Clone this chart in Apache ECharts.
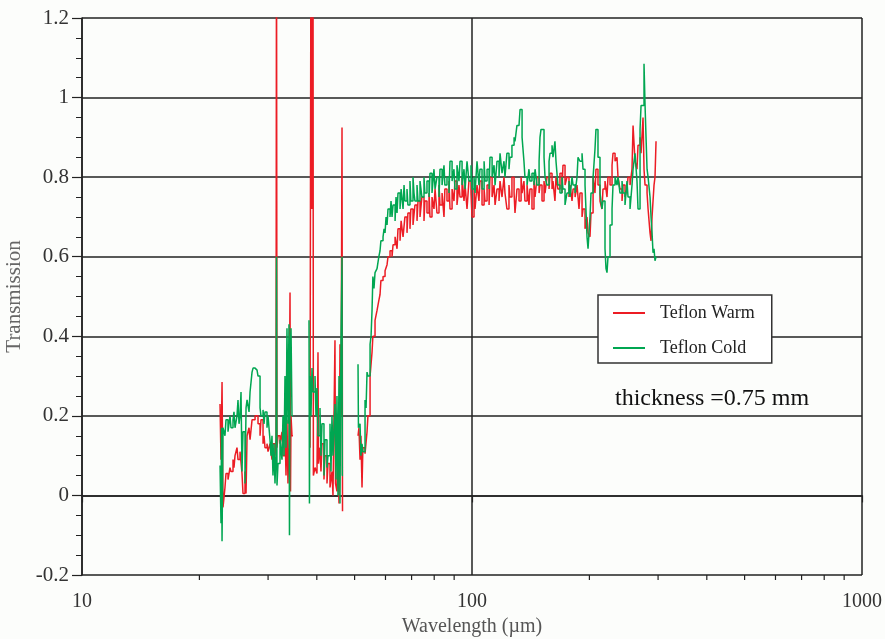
<!DOCTYPE html>
<html>
<head>
<meta charset="utf-8">
<title>Teflon transmission</title>
<script src="https://cdn.jsdelivr.net/npm/echarts@6/dist/echarts.min.js"></script>
<style>
  html, body { margin: 0; padding: 0; background: #fcfdfb; }
  #chart { width: 885px; height: 639px; }
</style>
</head>
<body>
<div id="chart"></div>
<script>
// wavelength (um) and transmission, null = no data (gap)
const warmWave = [
  22.59, 22.72, 22.86, 22.99, 23.26, 23.40, 23.68, 23.96, 24.10, 24.39, 24.53, 24.68, 24.97, 25.12, 25.42,
  25.72, 25.87, 26.18, 26.34, 26.50, 26.81, 26.97, 27.29, 27.78, 28.27, 28.61, 28.77, 29.12, 29.29, 29.46,
  29.81, 29.99, 30.34, 30.70, 30.88, 31.25, 31.44, 31.53, 31.62, 31.81, 32.19, 32.57, 32.76, 33.15, 33.35,
  33.54, 33.74, 33.94, 34.15, 34.25, 34.35, 34.55, 34.76,
  38.43, 38.65, 38.76, 38.88, 39.00, 39.11, 39.20, 39.58, 40.04, 40.28, 40.40, 40.76, 41.00, 41.24, 41.73,
  41.98, 42.48, 42.73, 43.24, 43.75, 44.01, 44.53, 44.67, 45.06, 45.33, 45.60, 45.87, 46.15, 46.42, 46.56, 46.70,
  51.02, 51.30, 51.63, 51.90, 52.24, 52.50, 53.18, 53.81, 54.10, 54.78, 55.42, 55.70, 56.41, 57.08, 57.70,
  58.10, 58.40, 59.14, 59.85, 60.56, 60.90, 61.63, 62.37, 62.74, 63.50, 64.24, 64.60, 65.39, 65.80, 66.56,
  67.30, 68.13, 68.50, 69.34, 69.70, 70.59, 71.40, 72.28, 72.70, 73.57, 74.40, 75.32, 75.70, 76.66, 77.60,
  78.04, 78.97, 79.90, 80.40, 81.32, 82.30, 82.78, 83.80, 84.76, 85.20, 86.27, 87.30, 87.82, 88.90, 89.91,
  90.40, 91.52, 92.60, 93.16, 94.30, 95.39, 96.00, 97.10, 98.20, 99.41, 100.0, 101.2, 101.8, 103.0, 104.2,
  104.8, 106.1, 107.4, 108.0, 109.3, 110.6, 111.2, 112.6, 113.9, 114.6, 115.9, 117.3, 118.0, 119.4, 120.8,
  121.5, 122.9, 124.4, 125.1, 126.6, 128.2, 128.9, 130.4, 132.0, 133.6, 134.4, 135.9, 136.7, 138.4, 140.0,
  140.8, 142.5, 144.2, 145.1, 146.8, 148.6, 149.4, 151.2, 153.0, 153.9, 155.7, 157.6, 158.5, 160.4, 161.3,
  163.2, 164.2, 166.1, 168.1, 170.1, 171.1, 173.2, 175.2, 177.3, 178.4, 180.5, 181.6, 183.8, 185.9, 188.1,
  189.2, 191.5, 192.6, 194.9, 197.2, 198.4, 200.7, 201.9, 204.4, 206.7, 207.9, 210.4, 212.9, 215.4, 216.7,
  219.3, 221.9, 223.2, 225.9, 228.6, 229.9, 232.7, 235.4, 236.8, 239.6, 242.5, 243.9, 246.8, 249.7, 251.2,
  254.2, 257.2, 258.8, 261.8, 264.9, 266.5, 269.7, 271.3, 274.5, 276.1, 277.8, 281.1, 282.8, 286.1, 287.8,
  289.5, 292.9, 294.6, 296.4
];
const warmTrans = [
  0.23, 0.09, 0.285, -0.03, 0.02, 0.055, 0.04, 0.07, 0.06, 0.09, 0.07, 0.10, 0.12, 0.09, 0.11,
  0.055, 0.005, 0.06, 0.005, 0.15, 0.17, 0.14, 0.19, 0.20, 0.18, 0.15, 0.19, 0.13, 0.15, 0.12,
  0.13, 0.11, 0.13, 0.09, 0.13, 0.10, 0.14, 1.50, 0.12, 0.15, 0.13, 0.16, 0.10, 0.17, 0.05,
  0.19, 0.03, 0.12, 0.51, 0.01, 0.20, 0.15, null,
  0.12, 1.50, 0.72, 1.50, 0.72, 1.50, 0.05, 0.07, 0.055, 0.36, 0.08, 0.12, 0.06, 0.13, 0.04,
  0.10, 0.03, 0.08, 0.02, 0.06, 0.00, 0.39, 0.03, 0.01, 0.14, -0.02, 0.38, 0.20, 0.925, -0.04, null,
  0.15, 0.17, 0.09, 0.15, 0.02, 0.12, 0.105, 0.16, 0.20, 0.30, 0.36, 0.40, 0.44, 0.465, 0.49,
  0.505, 0.54, 0.55, 0.565, 0.58, 0.60, 0.615, 0.60, 0.63, 0.65, 0.62, 0.67, 0.64, 0.69, 0.65,
  0.70, 0.66, 0.71, 0.67, 0.72, 0.68, 0.73, 0.69, 0.74, 0.70, 0.75, 0.69, 0.74, 0.71, 0.76,
  0.70, 0.75, 0.72, 0.77, 0.71, 0.78, 0.73, 0.76, 0.70, 0.77, 0.74, 0.79, 0.72, 0.77, 0.74,
  0.79, 0.73, 0.78, 0.75, 0.80, 0.74, 0.78, 0.72, 0.79, 0.76, 0.70, 0.77, 0.72, 0.78, 0.74,
  0.79, 0.73, 0.77, 0.74, 0.78, 0.73, 0.80, 0.75, 0.78, 0.73, 0.77, 0.74, 0.79, 0.75, 0.80,
  0.76, 0.72, 0.78, 0.75, 0.80, 0.76, 0.71, 0.77, 0.74, 0.80, 0.76, 0.79, 0.74, 0.78, 0.73,
  0.77, 0.72, 0.79, 0.75, 0.80, 0.76, 0.78, 0.74, 0.79, 0.76, 0.80, 0.77, 0.81, 0.77, 0.79,
  0.74, 0.80, 0.77, 0.81, 0.76, 0.83, 0.78, 0.80, 0.75, 0.78, 0.74, 0.77, 0.75, 0.78, 0.72,
  0.76, 0.70, 0.72, 0.67, 0.70, 0.66, 0.65, 0.71, 0.80, 0.76, 0.82, 0.78, 0.74, 0.72, 0.77,
  0.79, 0.75, 0.80, 0.78, 0.83, 0.86, 0.84, 0.85, 0.80, 0.77, 0.74, 0.78, 0.75, 0.77, 0.80,
  0.78, 0.82, 0.93, 0.84, 0.82, 0.88, 0.90, 0.86, 0.95, 0.82, 0.78, 0.76, 0.72, 0.66, 0.64,
  0.70, 0.78, 0.80, 0.89
];

const coldWave = [
  22.59, 22.72, 22.79, 22.86, 22.99, 23.26, 23.40, 23.68, 23.96, 24.10, 24.39, 24.53, 24.68, 24.97, 25.12,
  25.27, 25.42, 25.57, 25.72, 25.87, 26.18, 26.34, 26.50, 26.81, 26.97, 27.29, 27.45, 27.78, 28.11, 28.27,
  28.61, 28.77, 29.12, 29.29, 29.46, 29.81, 29.99, 30.34, 30.52, 30.70, 30.88, 31.06, 31.25, 31.44, 31.53,
  31.62, 31.81, 32.19, 32.57, 32.76, 32.96, 33.15, 33.35, 33.54, 33.74, 33.94, 34.04, 34.15, 34.35, 34.55, 34.76,
  38.20, 38.30, 38.43, 38.65, 38.88, 39.11, 39.58, 39.80, 40.04, 40.28, 40.76, 41.00, 41.24, 41.73, 41.98,
  42.48, 42.73, 43.24, 43.50, 43.75, 44.01, 44.53, 44.80, 45.06, 45.33, 45.60, 45.87, 46.15, 46.42, 46.50, 46.70,
  51.02, 51.15, 51.63, 51.90, 52.24, 52.50, 53.18, 53.50, 53.81, 54.10, 54.78, 55.10, 55.42, 55.70, 56.06,
  56.41, 57.08, 57.70, 58.10, 58.40, 59.14, 59.50, 59.85, 60.20, 60.56, 60.90, 61.63, 62.00, 62.37, 62.74,
  63.50, 63.86, 64.24, 64.60, 65.39, 65.80, 66.56, 66.95, 67.30, 68.13, 68.50, 69.34, 69.70, 70.59, 71.00,
  71.40, 72.28, 72.70, 73.57, 74.40, 75.32, 75.70, 76.66, 77.60, 78.04, 78.97, 79.90, 80.40, 81.32, 82.30,
  82.78, 83.80, 84.76, 85.20, 86.27, 87.30, 87.82, 88.90, 89.91, 90.40, 91.52, 92.60, 93.16, 94.30, 95.39,
  96.00, 97.10, 98.20, 99.41, 100.0, 101.2, 101.8, 103.0, 104.2, 104.8, 106.1, 107.4, 108.0, 109.3, 110.6,
  111.2, 112.6, 113.9, 114.6, 115.9, 117.3, 118.0, 119.4, 120.8, 121.5, 122.9, 124.4, 125.1, 126.6, 128.2,
  128.9, 130.4, 132.0, 132.8, 133.6, 134.4, 135.9, 136.7, 138.4, 140.0, 140.8, 142.5, 144.2, 145.1, 146.8,
  148.6, 149.4, 150.3, 151.2, 153.0, 153.9, 155.7, 157.6, 158.5, 160.4, 161.3, 163.2, 164.2, 166.1, 168.1,
  170.1, 171.1, 173.2, 175.2, 177.3, 178.4, 180.5, 181.6, 183.8, 185.9, 187.0, 189.2, 191.5, 192.6, 194.9,
  197.2, 198.4, 200.7, 201.9, 204.4, 206.7, 207.9, 209.1, 210.4, 212.9, 215.4, 216.7, 219.3, 220.6, 221.9,
  223.2, 225.9, 228.6, 229.9, 232.7, 235.4, 236.8, 239.6, 242.5, 243.9, 246.8, 249.7, 251.2, 254.2, 257.2,
  258.8, 261.8, 264.9, 266.5, 269.7, 271.3, 274.5, 276.1, 277.8, 279.4, 281.1, 282.8, 286.1, 287.8, 289.5,
  291.2, 292.9, 294.6, 296.4
];
const coldTrans = [
  0.075, -0.07, 0.17, -0.115, 0.17, 0.15, 0.19, 0.16, 0.20, 0.17, 0.19, 0.21, 0.17, 0.20, 0.24,
  0.18, 0.20, 0.26, 0.06, 0.16, 0.03, 0.22, 0.24, 0.21, 0.26, 0.31, 0.32, 0.315, 0.32, 0.30,
  0.22, 0.20, 0.215, 0.18, 0.21, 0.17, 0.20, 0.14, 0.10, 0.15, 0.05, 0.13, 0.03, 0.11, 0.60,
  0.025, 0.08, 0.14, 0.09, 0.20, 0.10, 0.30, 0.12, 0.42, 0.18, 0.43, -0.10, 0.36, 0.42, 0.20, null,
  0.44, -0.02, 0.30, 0.20, 0.32, 0.26, 0.30, 0.20, 0.27, 0.15, 0.22, 0.10, 0.18, 0.05, 0.14,
  0.07, 0.10, 0.18, 0.06, 0.20, 0.10, 0.23, 0.04, 0.25, 0.00, 0.30, -0.02, 0.40, 0.60, 0.05, null,
  0.33, 0.17, 0.18, 0.10, 0.13, 0.11, 0.24, 0.22, 0.31, 0.30, 0.38, 0.40, 0.465, 0.55, 0.52,
  0.56, 0.57, 0.60, 0.615, 0.64, 0.65, 0.67, 0.66, 0.70, 0.68, 0.72, 0.70, 0.74, 0.70, 0.73,
  0.69, 0.75, 0.71, 0.76, 0.72, 0.77, 0.72, 0.78, 0.74, 0.77, 0.73, 0.79, 0.74, 0.80, 0.76,
  0.74, 0.78, 0.74, 0.79, 0.75, 0.80, 0.76, 0.79, 0.75, 0.81, 0.76, 0.82, 0.77, 0.80, 0.75,
  0.82, 0.78, 0.83, 0.78, 0.80, 0.76, 0.84, 0.79, 0.82, 0.77, 0.83, 0.79, 0.84, 0.78, 0.82,
  0.77, 0.84, 0.79, 0.83, 0.77, 0.80, 0.76, 0.84, 0.78, 0.82, 0.77, 0.84, 0.79, 0.82, 0.77,
  0.85, 0.80, 0.83, 0.78, 0.84, 0.80, 0.86, 0.81, 0.84, 0.80, 0.86, 0.82, 0.85, 0.88, 0.90,
  0.89, 0.93, 0.93, 0.97, 0.97, 0.90, 0.84, 0.80, 0.78, 0.82, 0.79, 0.81, 0.78, 0.82, 0.78,
  0.84, 0.90, 0.92, 0.92, 0.85, 0.80, 0.78, 0.84, 0.86, 0.88, 0.85, 0.89, 0.84, 0.78, 0.76,
  0.80, 0.77, 0.73, 0.76, 0.79, 0.75, 0.80, 0.78, 0.76, 0.80, 0.85, 0.84, 0.86, 0.82, 0.78,
  0.65, 0.62, 0.70, 0.76, 0.80, 0.87, 0.92, 0.92, 0.85, 0.76, 0.72, 0.74, 0.62, 0.57, 0.56,
  0.60, 0.68, 0.72, 0.78, 0.80, 0.78, 0.80, 0.76, 0.79, 0.76, 0.73, 0.79, 0.75, 0.72, 0.78,
  0.82, 0.86, 0.79, 0.72, 0.92, 0.98, 0.98, 1.085, 0.98, 0.90, 0.82, 0.80, 0.75, 0.70, 0.66,
  0.61, 0.62, 0.59, 0.60
];

const xMinorTicks = [20, 30, 40, 50, 60, 70, 80, 90, 200, 300, 400, 500, 600, 700, 800, 900];

const serif = "'Liberation Serif', 'DejaVu Serif', serif";

function pairs(xs, ys) {
  return xs.map((x, i) => [x, ys[i]]);
}

const chart = echarts.init(document.getElementById('chart'));

const option = {
  backgroundColor: '#fcfdfb',
  animation: false,
  grid: { left: 82, right: 23, top: 18, bottom: 64, outerBoundsMode: 'none', containLabel: false },
  legend: {
    orient: 'vertical',
    left: 598,
    top: 295,
    padding: [9, 17, 6, 15],
    itemGap: 17,
    itemWidth: 32,
    itemHeight: 2,
    backgroundColor: '#ffffff',
    borderColor: '#333',
    borderWidth: 1.5,
    borderRadius: 0,
    data: [
      { name: 'Teflon Warm', icon: 'rect' },
      { name: 'Teflon Cold', icon: 'rect' }
    ],
    textStyle: { fontFamily: serif, fontSize: 18, color: '#222', padding: [0, 0, 0, 10] }
  },
  xAxis: {
    type: 'log',
    logBase: 10,
    min: 10,
    max: 1000,
    name: 'Wavelength (\u00b5m)',
    nameLocation: 'middle',
    nameGap: 41,
    nameTextStyle: { fontFamily: serif, fontSize: 20, color: '#555' },
    axisLine: { lineStyle: { color: '#222', width: 1.5 } },
    axisTick: { show: true, length: 7, lineStyle: { color: '#222', width: 1.2 } },
    axisLabel: {
      fontFamily: serif, fontSize: 20, color: '#333', margin: 17,
      formatter: v => String(Math.round(v))
    },
    splitLine: { show: true, lineStyle: { color: '#222', width: 1.5 } }
  },
  yAxis: {
    type: 'value',
    min: -0.2,
    max: 1.2,
    interval: 0.2,
    name: 'Transmission',
    nameLocation: 'middle',
    nameGap: 52,
    nameTextStyle: { fontFamily: serif, fontSize: 21, color: '#666' },
    axisLine: { show: true, lineStyle: { color: '#222', width: 1.5 } },
    axisTick: { show: true, length: 10, lineStyle: { color: '#222', width: 1.2 } },
    minorTick: { show: true, splitNumber: 4, length: 6, lineStyle: { color: '#222', width: 1 } },
    axisLabel: {
      fontFamily: serif, fontSize: 21, color: '#333', margin: 13,
      formatter: v => String(Math.round(v * 10) / 10)
    },
    splitLine: { show: true, lineStyle: { color: '#222', width: 1.5 } }
  },
  graphic: [
    {
      type: 'text',
      left: 613,
      top: 385,
      z: 10,
      style: {
        text: 'thickness =0.75 mm',
        font: '24px ' + serif,
        fill: '#111',
        backgroundColor: '#fcfdfb',
        padding: [2, 40, 2, 2]
      }
    }
  ],
  series: [
    {
      name: 'Teflon Warm',
      type: 'line',
      step: 'end',
      showSymbol: false,
      connectNulls: false,
      data: pairs(warmWave, warmTrans),
      color: '#ec1c24',
      lineStyle: { width: 1.5, color: '#ec1c24' }
    },
    {
      name: 'Teflon Cold',
      type: 'line',
      step: 'end',
      showSymbol: false,
      connectNulls: false,
      data: pairs(coldWave, coldTrans),
      color: '#00a651',
      lineStyle: { width: 1.5, color: '#00a651' }
    },
    {
      // minor ticks of the log axis at 20..90 and 200..900
      type: 'custom',
      silent: true,
      clip: false,
      data: xMinorTicks.map(v => [v, -0.2]),
      renderItem: (params, api) => {
        const p = api.coord([api.value(0), api.value(1)]);
        return {
          type: 'line',
          shape: { x1: p[0], y1: p[1], x2: p[0], y2: p[1] + 5 },
          style: { stroke: '#222', lineWidth: 1.2 }
        };
      }
    }
  ]
};

chart.setOption(option);
</script>
</body>
</html>
